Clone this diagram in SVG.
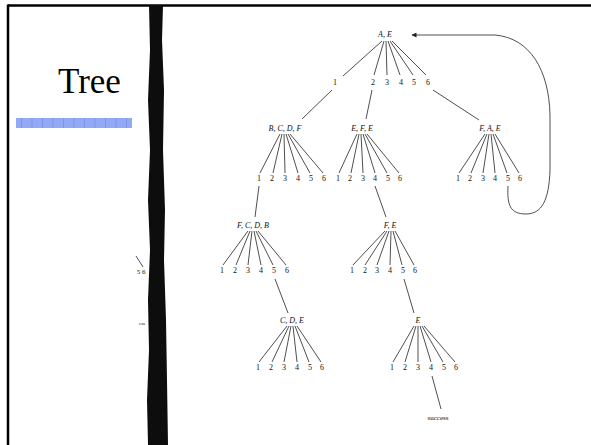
<svg xmlns="http://www.w3.org/2000/svg" width="591" height="445" viewBox="0 0 591 445">
<defs>
<style>
.lbl{font-family:"Liberation Serif","DejaVu Serif",serif;font-style:italic;font-size:8px;fill:#111;text-anchor:middle}
.num{font-family:"Liberation Serif","DejaVu Serif",serif;font-size:8px;fill:#111;text-anchor:middle}
.edge{stroke:#222;stroke-width:0.8;fill:none}
.title{font-family:"Liberation Serif","Times New Roman",serif;font-size:35px;fill:#000}
</style>
<pattern id="grid" width="10.5" height="10" patternUnits="userSpaceOnUse">
<rect width="10.5" height="10" fill="#94a9f6"/>
<line x1="0.5" y1="0" x2="0.5" y2="10" stroke="#7d93e8" stroke-width="1"/>
</pattern>
<marker id="arr" viewBox="0 0 10 10" refX="9" refY="5" markerWidth="6" markerHeight="5" orient="auto" markerUnits="userSpaceOnUse">
<path d="M0,0 L10,5 L0,10 z" fill="#222"/>
</marker>
</defs>
<rect width="591" height="445" fill="#fff"/>
<!-- slide border -->
<line x1="8" y1="5.5" x2="591" y2="5.5" stroke="#000" stroke-width="2.5"/>
<line x1="8" y1="4.5" x2="8" y2="445" stroke="#000" stroke-width="2.5"/>
<!-- title -->
<g id="title">
<text class="title" x="58" y="93">Tree</text>
<rect x="16" y="118" width="116" height="10" fill="url(#grid)"/>
</g>
<!-- scan edge -->
<polygon points="149,5 163,5 162,40 164,90 163,150 165,210 164,260 166,320 167,380 168,445 148,445 147,400 149,350 148,300 150,250 148,200 150,150 148,100 150,50" fill="#0d0d0d"/>
<!-- fragments of previous page -->
<g id="fragments">
<line x1="136" y1="256" x2="143" y2="267" class="edge"/>
<text class="num" x="141" y="274" style="font-size:7px">5 6</text>
<text class="num" x="142" y="325" style="font-size:5px">ess</text>
</g>
<!-- connectors -->
<g id="connectors">
<!-- root fan -->
<line class="edge" x1="382" y1="41" x2="343" y2="76"/>
<line class="edge" x1="384" y1="41" x2="374" y2="75"/>
<line class="edge" x1="386" y1="41" x2="387" y2="75"/>
<line class="edge" x1="388" y1="41" x2="400" y2="75"/>
<line class="edge" x1="390" y1="41" x2="413" y2="75"/>
<line class="edge" x1="392" y1="41" x2="426" y2="75"/>
<line class="edge" x1="332" y1="90" x2="302" y2="119"/>
<line class="edge" x1="372" y1="90" x2="366" y2="119"/>
<line class="edge" x1="433" y1="90" x2="479" y2="120"/>
<!-- BCDF fan -->
<line class="edge" x1="280" y1="134" x2="260" y2="173"/>
<line class="edge" x1="282" y1="134" x2="273" y2="173"/>
<line class="edge" x1="284" y1="134" x2="285" y2="173"/>
<line class="edge" x1="286" y1="134" x2="298" y2="173"/>
<line class="edge" x1="288" y1="134" x2="310" y2="173"/>
<line class="edge" x1="290" y1="134" x2="323" y2="173"/>
<!-- EFE fan -->
<line class="edge" x1="357" y1="134" x2="339" y2="173"/>
<line class="edge" x1="359" y1="134" x2="351" y2="173"/>
<line class="edge" x1="361" y1="134" x2="363" y2="173"/>
<line class="edge" x1="363" y1="134" x2="375" y2="173"/>
<line class="edge" x1="365" y1="134" x2="387" y2="173"/>
<line class="edge" x1="367" y1="134" x2="399" y2="173"/>
<!-- FAE fan -->
<line class="edge" x1="485" y1="134" x2="459" y2="173"/>
<line class="edge" x1="487" y1="134" x2="471" y2="173"/>
<line class="edge" x1="489" y1="134" x2="483" y2="173"/>
<line class="edge" x1="491" y1="134" x2="495" y2="173"/>
<line class="edge" x1="493" y1="134" x2="507" y2="173"/>
<line class="edge" x1="495" y1="134" x2="519" y2="173"/>
<line class="edge" x1="259" y1="186" x2="255" y2="217"/>
<line class="edge" x1="375" y1="186" x2="386" y2="217"/>
<!-- FCDB fan -->
<line class="edge" x1="248" y1="231" x2="223" y2="265"/>
<line class="edge" x1="250" y1="231" x2="236" y2="265"/>
<line class="edge" x1="252" y1="231" x2="248" y2="265"/>
<line class="edge" x1="254" y1="231" x2="261" y2="265"/>
<line class="edge" x1="256" y1="231" x2="273" y2="265"/>
<line class="edge" x1="258" y1="231" x2="286" y2="265"/>
<!-- FE fan -->
<line class="edge" x1="385" y1="231" x2="353" y2="265"/>
<line class="edge" x1="387" y1="231" x2="365" y2="265"/>
<line class="edge" x1="389" y1="231" x2="377" y2="265"/>
<line class="edge" x1="391" y1="231" x2="390" y2="265"/>
<line class="edge" x1="393" y1="231" x2="402" y2="265"/>
<line class="edge" x1="395" y1="231" x2="414" y2="265"/>
<line class="edge" x1="275" y1="279" x2="288" y2="313"/>
<line class="edge" x1="404" y1="279" x2="414" y2="313"/>
<!-- CDE fan -->
<line class="edge" x1="287" y1="326" x2="259" y2="362"/>
<line class="edge" x1="289" y1="326" x2="272" y2="362"/>
<line class="edge" x1="291" y1="326" x2="284" y2="362"/>
<line class="edge" x1="293" y1="326" x2="297" y2="362"/>
<line class="edge" x1="295" y1="326" x2="309" y2="362"/>
<line class="edge" x1="297" y1="326" x2="321" y2="362"/>
<!-- E fan -->
<line class="edge" x1="414" y1="326" x2="393" y2="362"/>
<line class="edge" x1="416" y1="326" x2="405" y2="362"/>
<line class="edge" x1="418" y1="326" x2="418" y2="362"/>
<line class="edge" x1="420" y1="326" x2="431" y2="362"/>
<line class="edge" x1="422" y1="326" x2="443" y2="362"/>
<line class="edge" x1="424" y1="326" x2="455" y2="362"/>
<line class="edge" x1="432" y1="376" x2="441" y2="409"/>
<!-- loop back to root -->
<path class="edge" d="M508,186 C507,205 510,214 526,214 C542,214 549,200 550,170 L550,115 C549,70 530,38 495,35 L412,35" marker-end="url(#arr)"/>
</g>
<!-- nodes -->
<g id="n-root"><text class="lbl" x="385" y="37">A, E</text></g>
<g id="n-r1">
<text class="num" x="335" y="85">1</text><text class="num" x="373" y="85">2</text><text class="num" x="387" y="85">3</text><text class="num" x="401" y="85">4</text><text class="num" x="414" y="85">5</text><text class="num" x="428" y="85">6</text>
</g>
<g id="n-bcdf"><text class="lbl" x="285" y="131">B, C, D, F</text></g>
<g id="n-efe"><text class="lbl" x="362" y="131">E, F, E</text></g>
<g id="n-fae"><text class="lbl" x="490" y="131">F, A, E</text></g>
<g id="n-r2a"><text class="num" x="259" y="181">1</text><text class="num" x="272" y="181">2</text><text class="num" x="285" y="181">3</text><text class="num" x="298" y="181">4</text><text class="num" x="311" y="181">5</text><text class="num" x="324" y="181">6</text></g>
<g id="n-r2b"><text class="num" x="338" y="181">1</text><text class="num" x="350" y="181">2</text><text class="num" x="363" y="181">3</text><text class="num" x="375" y="181">4</text><text class="num" x="388" y="181">5</text><text class="num" x="400" y="181">6</text></g>
<g id="n-r2c"><text class="num" x="458" y="181">1</text><text class="num" x="470" y="181">2</text><text class="num" x="483" y="181">3</text><text class="num" x="495" y="181">4</text><text class="num" x="508" y="181">5</text><text class="num" x="520" y="181">6</text></g>
<g id="n-fcdb"><text class="lbl" x="253" y="228">F, C, D, B</text></g>
<g id="n-fe"><text class="lbl" x="390" y="228">F, E</text></g>
<g id="n-r3a"><text class="num" x="222" y="273">1</text><text class="num" x="235" y="273">2</text><text class="num" x="248" y="273">3</text><text class="num" x="261" y="273">4</text><text class="num" x="274" y="273">5</text><text class="num" x="287" y="273">6</text></g>
<g id="n-r3b"><text class="num" x="352" y="273">1</text><text class="num" x="365" y="273">2</text><text class="num" x="377" y="273">3</text><text class="num" x="390" y="273">4</text><text class="num" x="403" y="273">5</text><text class="num" x="415" y="273">6</text></g>
<g id="n-cde"><text class="lbl" x="292" y="323">C, D, E</text></g>
<g id="n-e"><text class="lbl" x="418" y="323">E</text></g>
<g id="n-r4a"><text class="num" x="258" y="370">1</text><text class="num" x="271" y="370">2</text><text class="num" x="284" y="370">3</text><text class="num" x="297" y="370">4</text><text class="num" x="310" y="370">5</text><text class="num" x="322" y="370">6</text></g>
<g id="n-r4b"><text class="num" x="392" y="370">1</text><text class="num" x="405" y="370">2</text><text class="num" x="418" y="370">3</text><text class="num" x="431" y="370">4</text><text class="num" x="444" y="370">5</text><text class="num" x="456" y="370">6</text></g>
<g id="n-success"><text class="num" x="438" y="420" style="font-size:7px">success</text></g>
</svg>
